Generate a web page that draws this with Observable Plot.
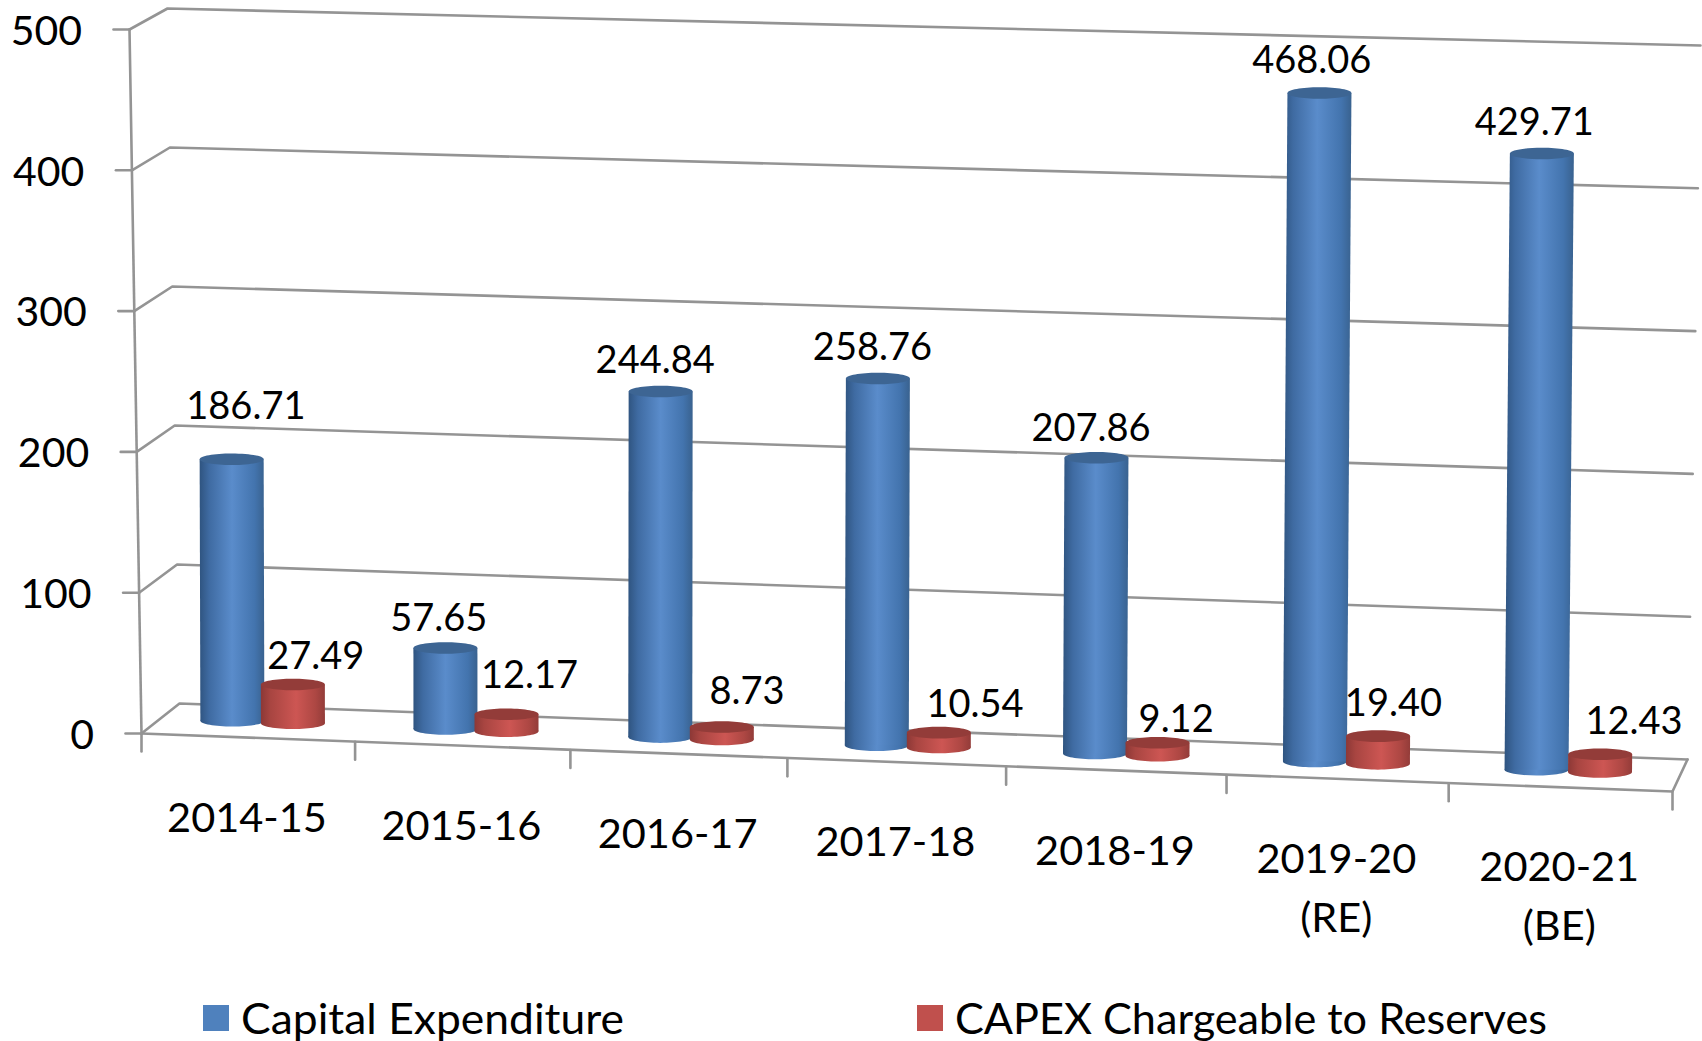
<!DOCTYPE html>
<html>
<head>
<meta charset="utf-8">
<style>
html,body{margin:0;padding:0;background:#fff;width:1702px;height:1041px;overflow:hidden}
#legend{position:absolute;left:0;top:975px;width:1702px;height:66px;font-family:Lato,sans-serif;font-size:42px;color:#000}
.sw{position:absolute;top:30px;width:26px;height:26px}
.lb{position:absolute;top:16px;white-space:nowrap;transform-origin:0 50%;line-height:54px}
</style>
<script src="https://cdn.jsdelivr.net/npm/d3@7"></script>
<script src="https://cdn.jsdelivr.net/npm/@observablehq/plot@0.6"></script>
</head>
<body>
<div id="chart"></div>
<div id="legend"></div>
<script>
const categories = ["2014-15","2015-16","2016-17","2017-18","2018-19","2019-20\n(RE)","2020-21\n(BE)"];
const capitalExpenditure = [186.71,57.65,244.84,258.76,207.86,468.06,429.71];
const capexReserves = [27.49,12.17,8.73,10.54,9.12,19.40,12.43];
const yTicks = [0,100,200,300,400,500];
const seriesNames = ["Capital Expenditure","CAPEX Chargeable to Reserves"];
// label nudges, in category units (x) and value units (lift above the cylinder top)
const blueNudge = [0.065,-0.03,-0.025,-0.025,-0.025,-0.035,-0.035];
const blueLift = [37.5,20.5,21.5,21.5,20.5,22.5,21.5];
const redNudge = [0.105,0.105,0.115,0.165,0.085,0.07,0.155];
const redLift = [20,27,25,20,16,23,23];

const W=1702,H=975,X0=141,X1=1672,Y0=733,Y1=29;
const PX=(X1-X0)/7, PY=(Y0-Y1)/500;
const warp=c=>c+0.0039*c*(c-7);
function scene(c,d,v){
  const t=c/7;
  const lean=(v/500)*(-12+25*t);
  const dx=d*(38-23*t);
  const f=Y0-PY*v+t*(58-0.038*v), b=703-1.39*v+t*(56-0.038*v);
  const yp=f+(b-f)*d;
  return {x:warp(c)+(lean+dx)/PX, y:(Y0-yp)/PY};
}
function barPt(c,v){
  const t=c/7;
  const lean=v*(-0.005+0.019*t);
  const shift=4-1.2*c;
  const f=Y0-PY*v+t*(58-0.038*v), b=703-1.39*v+t*(56-0.038*v);
  const yp=(f+b)/2-1;
  return {x:warp(c)+(lean+shift)/PX, y:(Y0-yp)/PY};
}
// walls
const wall=[];
for(const v of yTicks){
  wall.push({k:v,...scene(0,0,v)},{k:v,...scene(0,1,v)},{k:v,...scene(7,1,v)});
}
const frame=[
  {k:"axis",...scene(0,0,0)},{k:"axis",...scene(0,0,500)},
  {k:"floor",...scene(0,0,0)},{k:"floor",...scene(7,0,0)},{k:"floor",...scene(7,1,0)}
];
const ticksLeft=yTicks.flatMap(v=>{const p=scene(0,0,v);return [{k:"l"+v,...p},{k:"l"+v,x:p.x-16/PX,y:p.y}];});
const ticksBottom=d3.range(8).flatMap(i=>{const p=scene(i,0,0);return [{k:"b"+i,...p},{k:"b"+i,x:p.x,y:p.y-18/PY}];});
const yLabels=yTicks.map(v=>{const p=scene(0,0,v);return {t:String(v),x:p.x-47.5/PX,y:p.y-1.5};});
const catLabels=categories.map((t,i)=>{const p=scene(i+0.5,0,0);return {t,x:p.x-0.005,y:p.y-37};});

function bars(values,offset,lift,nudge){
  const body=[],tops=[],bases=[],labels=[];
  values.forEach((v,i)=>{
    const c=i+0.41+offset, hw=32/PX;
    const a=barPt(c,0), b=barPt(c,v);
    body.push({k:i,x:a.x-hw,y:a.y},{k:i,x:b.x-hw,y:b.y},{k:i,x:b.x+hw,y:b.y},{k:i,x:a.x+hw,y:a.y});
    tops.push(b); bases.push(a);
    labels.push({t:v.toFixed(2),x:b.x+nudge[i],y:b.y+lift[i]});
  });
  return {body,tops,bases,labels};
}
const blue=bars(capitalExpenditure,0,blueLift,blueNudge);
const red=bars(capexReserves,0.285,redLift,redNudge);

const ellipse={draw(ctx,size){
  const rx=Math.sqrt(size/Math.PI), ry=rx*0.18, k=0.5523;
  ctx.moveTo(-rx,0);
  ctx.bezierCurveTo(-rx,-ry*k,-rx*k,-ry,0,-ry);
  ctx.bezierCurveTo(rx*k,-ry,rx,-ry*k,rx,0);
  ctx.bezierCurveTo(rx,ry*k,rx*k,ry,0,ry);
  ctx.bezierCurveTo(-rx*k,ry,-rx,ry*k,-rx,0);
  ctx.closePath();
}};
function defs(){
  const ns="http://www.w3.org/2000/svg";
  const el=document.createElementNS(ns,"defs");
  const g=(id,stops)=>`<linearGradient id="${id}" x1="0" x2="1" y1="0" y2="0">`+stops.map(([o,c])=>`<stop offset="${o}" stop-color="${c}"/>`).join("")+`</linearGradient>`;
  el.innerHTML=g("gBlue",[[0,"#2f5480"],[0.15,"#3f6ba2"],[0.5,"#5a8ccb"],[0.85,"#4374ae"],[1,"#39628f"]])
             +g("gRed",[[0,"#8c3836"],[0.15,"#a84541"],[0.55,"#cd5653"],[0.85,"#ad4743"],[1,"#933c39"]]);
  return el;
}
const line={stroke:"#949494",strokeWidth:2.6};
const drawBars=(s,grad,top)=>[
  Plot.dot(s.bases,{x:"x",y:"y",r:32,symbol:ellipse,fill:`url(#${grad})`,stroke:"none"}),
  Plot.line(s.body,{x:"x",y:"y",z:"k",fill:`url(#${grad})`,stroke:"none"}),
  Plot.dot(s.tops,{x:"x",y:"y",r:32,symbol:ellipse,fill:top,stroke:"none"})
];
const chart=Plot.plot({
  width:W,height:H,marginLeft:X0,marginRight:W-X1,marginTop:Y1,marginBottom:H-Y0,
  style:{background:"#fff",fontFamily:"Lato,sans-serif",color:"#000"},
  x:{domain:[0,7],axis:null},
  y:{domain:[0,500],axis:null},
  marks:[
    defs,
    Plot.line(wall,{x:"x",y:"y",z:"k",...line}),
    Plot.line(frame,{x:"x",y:"y",z:"k",...line}),
    Plot.line(ticksLeft,{x:"x",y:"y",z:"k",...line}),
    Plot.line(ticksBottom,{x:"x",y:"y",z:"k",...line}),
    ...drawBars(blue,"gBlue","#3d6593"),
    ...drawBars(red,"gRed","#933c39"),
    Plot.text(yLabels,{x:"x",y:"y",text:"t",textAnchor:"end",fontSize:41,fill:"#000"}),
    Plot.text(catLabels,{x:"x",y:"y",text:"t",lineAnchor:"top",lineHeight:1.42,fontSize:41.5,fill:"#000"}),
    Plot.text(blue.labels,{x:"x",y:"y",text:"t",fontSize:38,fill:"#000"}),
    Plot.text(red.labels,{x:"x",y:"y",text:"t",fontSize:38,fill:"#000"})
  ]
});
document.getElementById("chart").appendChild(chart);
// legend
const legend=document.getElementById("legend");
const items=[
  {name:seriesNames[0],color:"#4f81bd",sw:203,tx:241,w:383},
  {name:seriesNames[1],color:"#c0504d",sw:917,tx:955,w:592}
];
for(const it of items){
  const s=document.createElement("div");s.className="sw";s.style.left=it.sw+"px";s.style.background=it.color;legend.appendChild(s);
  const t=document.createElement("div");t.className="lb";t.style.left=it.tx+"px";t.textContent=it.name;legend.appendChild(t);
  const w=t.getBoundingClientRect().width;
  t.style.transform=`scaleX(${it.w/w})`;
}
</script>
</body>
</html>
